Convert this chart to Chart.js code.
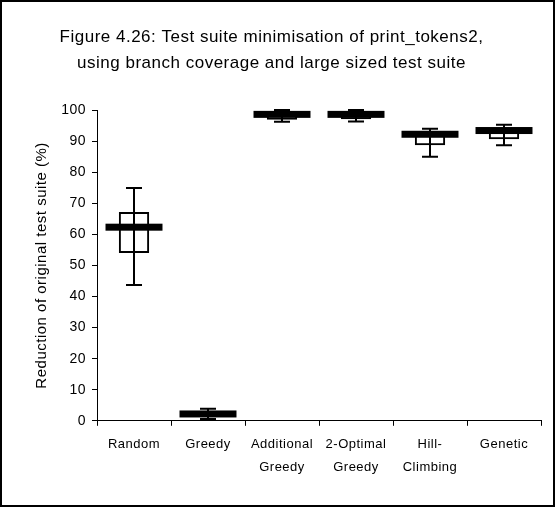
<!DOCTYPE html>
<html>
<head>
<meta charset="utf-8">
<script src="https://cdn.jsdelivr.net/npm/chart.js@4.4.0/dist/chart.umd.min.js"></script>
<style>
  html, body { margin: 0; padding: 0; background: #fff; }
  #frame { width: 555px; height: 507px; box-sizing: border-box; border: 2px solid #000; }
  #frame canvas { display: block; }
</style>
</head>
<body>
<div id="frame"><canvas id="boxChart" width="551" height="503"></canvas></div>
<script>
// Box plot data
const categories = ['Random', 'Greedy', ['Additional', 'Greedy'], ['2-Optimal', 'Greedy'], ['Hill-', 'Climbing'], 'Genetic'];
const minValues = [43.7, 0.6, 96.2, 96.3, 85.0, 88.7];
const q1Values = [54.0, 1.4, 96.9, 97.0, 88.7, 90.6];
const medianValues = [62.3, 2.2, 98.6, 98.6, 92.2, 93.4];
const q3Values = [67.2, 3.0, 99.3, 99.3, 93.2, 94.3];
const maxValues = [74.9, 3.9, 100, 100, 94.0, 95.3];

const yTicks = [0, 10, 20, 30, 40, 50, 60, 70, 80, 90, 100];

Chart.defaults.font.family = '"Liberation Sans", Arial, sans-serif';
Chart.defaults.color = '#000';

// the old figure has loosely spaced text
const spacingPlugin = {
  id: 'spacingPlugin',
  beforeUpdate(chart) { chart.ctx.letterSpacing = '0.5px'; },
  beforeDraw(chart) { chart.ctx.letterSpacing = '0.5px'; }
};

// whiskers, caps and the thick median bar
const boxPlotPlugin = {
  id: 'boxPlotPlugin',
  afterDatasetsDraw(chart) {
    const { ctx, scales: { x, y } } = chart;
    const catWidth = x.getPixelForValue(1) - x.getPixelForValue(0);
    const capHalf = 8;
    const medHalf = catWidth * 0.385;

    ctx.save();
    ctx.strokeStyle = '#000';
    ctx.fillStyle = '#000';
    ctx.lineWidth = 2;

    categories.forEach((c, i) => {
      const cx = x.getPixelForValue(i);
      const yMin = y.getPixelForValue(minValues[i]);
      const yMax = y.getPixelForValue(maxValues[i]);
      const yMed = y.getPixelForValue(medianValues[i]);

      ctx.beginPath();
      ctx.moveTo(cx, yMax);
      ctx.lineTo(cx, yMin);
      ctx.moveTo(cx - capHalf, yMax);
      ctx.lineTo(cx + capHalf, yMax);
      ctx.moveTo(cx - capHalf, yMin);
      ctx.lineTo(cx + capHalf, yMin);
      ctx.stroke();

      ctx.fillRect(cx - medHalf, yMed - 3.5, medHalf * 2, 7);
    });
    ctx.restore();
  }
};

new Chart(document.getElementById('boxChart'), {
  type: 'bar',
  data: {
    labels: categories,
    datasets: [{
      data: q1Values.map((q, i) => [q, q3Values[i]]),
      backgroundColor: 'rgba(0,0,0,0)',
      borderColor: '#000',
      borderWidth: 2,
      borderSkipped: false,
      barPercentage: 0.41,
      categoryPercentage: 1
    }]
  },
  options: {
    responsive: false,
    devicePixelRatio: 1,
    animation: false,
    layout: {
      padding: { top: 0, right: 12, bottom: 19, left: 0 }
    },
    plugins: {
      legend: { display: false },
      tooltip: { enabled: false },
      title: {
        display: true,
        text: ['Figure 4.26: Test suite minimisation of print_tokens2,', 'using branch coverage and large sized test suite'],
        font: { size: 17, weight: 'normal', lineHeight: 1.53 },
        color: '#000',
        padding: { top: 22, bottom: 34 }
      }
    },
    scales: {
      x: {
        grid: { offset: true, drawOnChartArea: false, tickLength: 5, color: '#000' },
        border: { color: '#000', width: 1 },
        ticks: {
          font: { size: 13, lineHeight: 1.7 },
          color: '#000',
          padding: 8,
          maxRotation: 0,
          autoSkip: false
        }
      },
      y: {
        min: 0,
        max: 100,
        afterBuildTicks: scale => { scale.ticks = yTicks.map(v => ({ value: v })); },
        afterFit: scale => { scale.width = 95; },
        grid: { drawOnChartArea: false, tickLength: 5, color: '#000' },
        border: { color: '#000', width: 1 },
        ticks: { font: { size: 14 }, color: '#000', padding: 6 },
        title: {
          display: true,
          text: 'Reduction of original test suite (%)',
          font: { size: 15 },
          color: '#000',
          padding: { top: 31, bottom: 0 }
        }
      }
    }
  },
  plugins: [spacingPlugin, boxPlotPlugin]
});
</script>
</body>
</html>
